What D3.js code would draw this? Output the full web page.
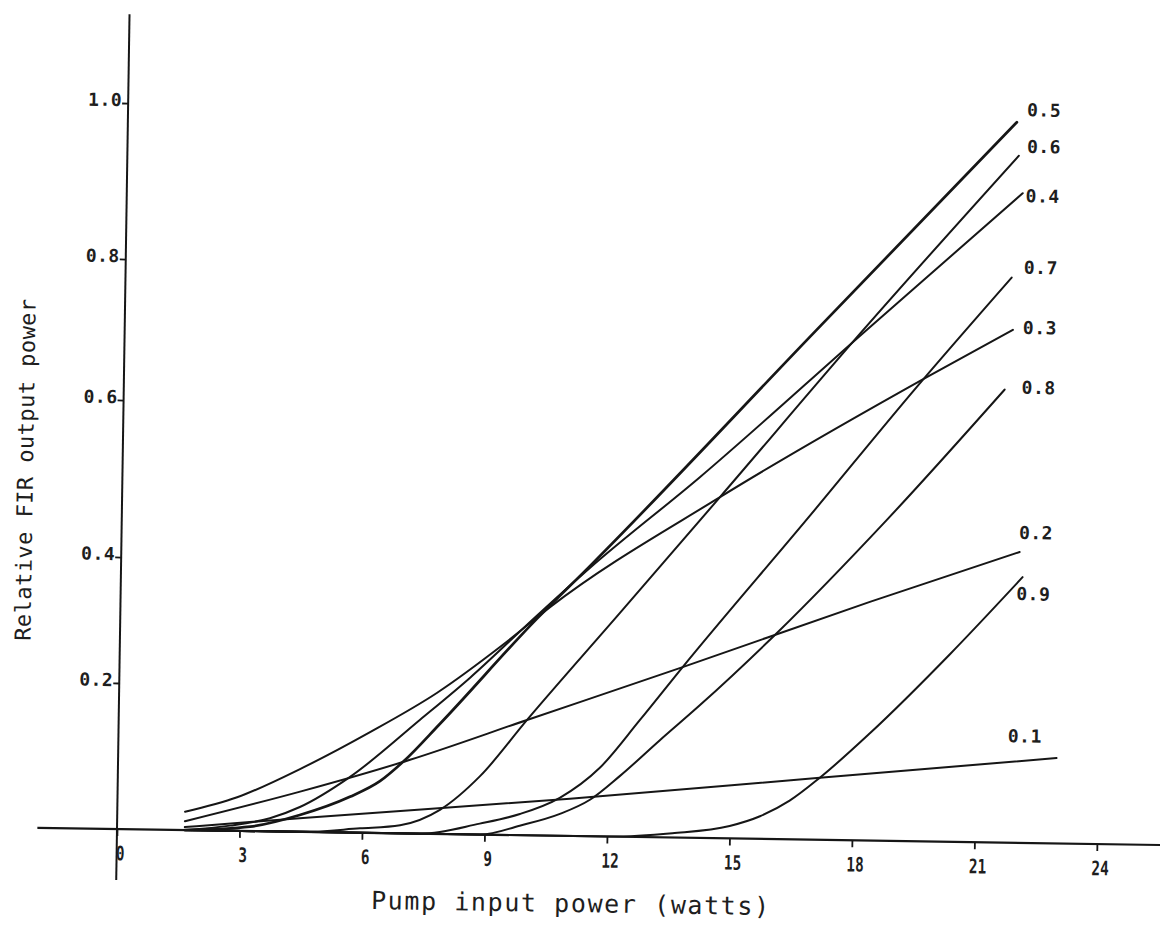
<!DOCTYPE html>
<html><head><meta charset="utf-8">
<script src="https://cdn.jsdelivr.net/npm/d3@7"></script>
<style>
html,body{margin:0;padding:0;background:#fff;}
svg{display:block;background:#fff;}
text{font-family:"DejaVu Sans Mono","Liberation Mono",monospace;fill:#1e1e1e;}
</style></head><body>
<svg id="chart" width="1160" height="936"></svg>
<script>
// ---------- data ----------
const xTickValues = [0, 3, 6, 9, 12, 15, 18, 21, 24];
const yTickValues = [0.2, 0.4, 0.6, 0.8, 1.0];
const xTitle = "Pump input power (watts)";
const yTitle = "Relative FIR output power";
const seriesNames = ["0.1", "0.2", "0.3", "0.4", "0.5", "0.6", "0.7", "0.8", "0.9"];

const pump01  = [1.66, 4.55, 11.08, 17.19, 22.98];
const power01 = [0.004, 0.019, 0.051, 0.085, 0.117];

const pump02  = [1.66, 4.47, 7.15, 10.0, 13.79, 18.35, 22.0];
const power02 = [0.012, 0.055, 0.101, 0.158, 0.239, 0.347, 0.424];

const pump03  = [1.66, 2.93, 4.53, 6.16, 7.78, 9.38, 10.52, 14.64, 19.66, 21.75];
const power03 = [0.025, 0.046, 0.088, 0.138, 0.193, 0.270, 0.331, 0.488, 0.650, 0.719];

const pump04  = [1.66, 2.77, 3.74, 4.47, 5.68, 7.38, 8.59, 10.2, 11.48, 14.14, 18.08, 21.94];
const power04 = [0, 0.007, 0.018, 0.034, 0.076, 0.156, 0.217, 0.317, 0.394, 0.513, 0.711, 0.902];

const pump05  = [1.66, 3.26, 4.47, 5.69, 6.42, 6.98, 7.87, 10.2, 11.48, 16.95, 21.77];
const power05 = [0, 0.006, 0.023, 0.049, 0.071, 0.098, 0.151, 0.312, 0.397, 0.715, 0.993];

const pump06  = [1.66, 4.48, 5.95, 6.93, 7.9, 8.87, 10.0, 12.23, 14.64, 18.05, 21.83];
const power06 = [0, 0, 0.006, 0.011, 0.033, 0.080, 0.158, 0.323, 0.488, 0.713, 0.950];

const pump07  = [1.66, 7.42, 8.88, 9.86, 10.83, 11.8, 12.76, 13.79, 16.77, 19.42, 21.7];
const power07 = [0, 0, 0.015, 0.029, 0.052, 0.094, 0.160, 0.239, 0.461, 0.636, 0.793];

const pump08  = [1.66, 8.89, 9.86, 10.84, 11.57, 12.29, 13.26, 14.23, 16.08, 18.73, 21.57];
const power08 = [0, 0, 0.013, 0.030, 0.050, 0.083, 0.133, 0.182, 0.295, 0.462, 0.634];

const pump09  = [1.66, 12.0, 13.6, 15.0, 15.74, 16.46, 17.19, 18.4, 20.33, 22.08];
const power09 = [0, 0, 0.006, 0.017, 0.031, 0.053, 0.085, 0.147, 0.266, 0.390];

const pumpSeries  = [pump01, pump02, pump03, pump04, pump05, pump06, pump07, pump08, pump09];
const powerSeries = [power01, power02, power03, power04, power05, power06, power07, power08, power09];

// ---------- layout ----------
const origin = [117, 829];
const tilt = 0.88; // the scanned original is slightly rotated
// label offsets (px) from each curve's end point
const labelOffset = {
  "0.1": [-49, -21], "0.2": [-1, -19], "0.3": [10, -2], "0.4": [3, 3],
  "0.5": [10, -12], "0.6": [8, -9], "0.7": [12, -10], "0.8": [17, -2], "0.9": [-6, 17]
};

const svg = d3.select("#chart");
const g = svg.append("g")
  .attr("transform", `translate(${origin[0]},${origin[1]}) rotate(${tilt})`);

const x = d3.scaleLinear().domain([0, 24]).range([0, 980]);
const y = d3.scaleLinear()
  .domain([0, 0.2, 0.4, 0.6, 0.8, 1.0])
  .range([0, -146, -272, -429, -570, -726]);

const ink = "#161616";

// axis lines (extended beyond the data domain as in the original)
g.append("line")
  .attr("x1", x(-1.95)).attr("x2", x(25.7))
  .attr("y1", y(0)).attr("y2", y(0))
  .attr("stroke", ink).attr("stroke-width", 2.2);
g.append("line")
  .attr("x1", x(0)).attr("x2", x(0))
  .attr("y1", y(-0.07)).attr("y2", y(1.114))
  .attr("stroke", ink).attr("stroke-width", 2);

// x axis ticks
const xAxis = d3.axisBottom(x).tickValues(xTickValues).tickSize(7).tickPadding(10)
  .tickFormat(d3.format("d"));
const gx = g.append("g").call(xAxis);
gx.select(".domain").remove();
gx.selectAll(".tick line").attr("stroke", ink).attr("stroke-width", 1.8);
gx.selectAll(".tick text")
  .attr("font-family", "DejaVu Sans Mono, monospace")
  .attr("font-size", 20)
  .attr("font-weight", "bold")
  .attr("fill", "#1e1e1e")
  .attr("transform", "translate(3,0) scale(0.72,1)");

// y axis ticks
const yAxis = d3.axisLeft(y).tickValues(yTickValues).tickSize(6).tickPadding(0)
  .tickFormat(d3.format(".1f"));
const gy = g.append("g").call(yAxis);
gy.select(".domain").remove();
gy.selectAll(".tick line").attr("stroke", ink).attr("stroke-width", 1.8);
gy.selectAll(".tick text")
  .attr("font-family", "DejaVu Sans Mono, monospace")
  .attr("font-size", 18)
  .attr("font-weight", "bold")
  .attr("letter-spacing", 0.5)
  .attr("fill", "#1e1e1e")
  .attr("dy", "0.15em");

// curves
const line = d3.line()
  .x(d => x(d[0]))
  .y(d => y(d[1]))
  .curve(d3.curveMonotoneX);

seriesNames.forEach((name, i) => {
  const pts = pumpSeries[i].map((p, j) => [p, powerSeries[i][j]]);
  g.append("path")
    .datum(pts)
    .attr("d", line)
    .attr("fill", "none")
    .attr("stroke", ink)
    .attr("stroke-width", name === "0.5" ? 2.7 : 2.0)
    .attr("stroke-linejoin", "round")
    .attr("stroke-linecap", "round");
  const last = pts[pts.length - 1];
  const off = labelOffset[name];
  g.append("text")
    .attr("x", x(last[0]) + off[0])
    .attr("y", y(last[1]) + off[1] + 6)
    .attr("font-size", 18)
    .attr("font-weight", "bold")
    .attr("letter-spacing", 0.5)
    .text(name);
});

// titles
g.append("text")
  .attr("x", 455).attr("y", 76)
  .attr("text-anchor", "middle")
  .attr("font-size", 25)
  .attr("letter-spacing", 1.6)
  .text(xTitle);

g.append("text")
  .attr("transform", "translate(-89.5,-358) rotate(-90)")
  .attr("text-anchor", "middle")
  .attr("font-size", 22)
  .attr("letter-spacing", 0.45)
  .text(yTitle);
</script>
</body></html>
